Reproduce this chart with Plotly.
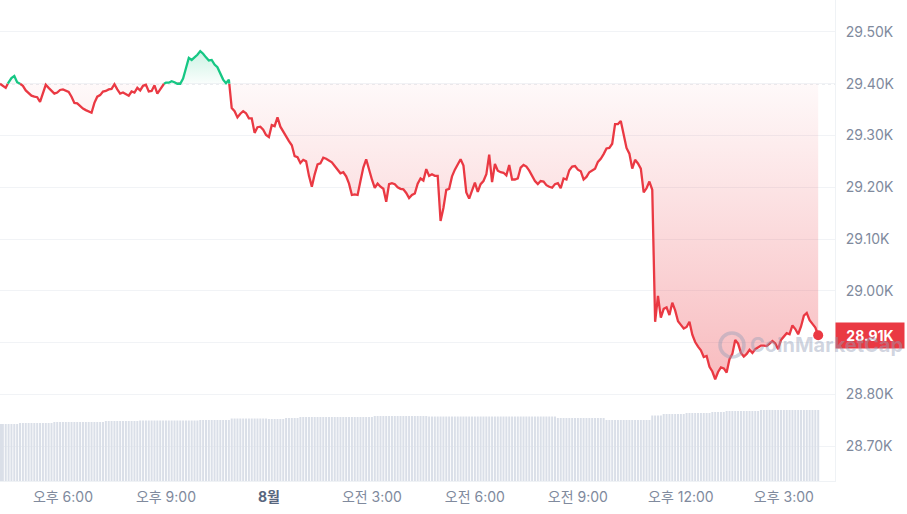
import numpy as np
import pandas as pd
import plotly.graph_objects as go

# ---------------- data ----------------
START = "2023-07-31 16:10"
STEP_MIN = 5
BASE = 29400  # reference (open) price -> dotted baseline

price = [
    29400, 29396, 29392, 29403, 29411, 29415, 29403, 29400, 29396, 29387,
    29382, 29377, 29375, 29374, 29365, 29382, 29398, 29392, 29387, 29381,
    29383, 29388, 29389, 29386, 29384, 29375, 29363, 29362, 29357, 29352,
    29349, 29346, 29344, 29363, 29375, 29378, 29385, 29386, 29389, 29390,
    29399, 29389, 29381, 29383, 29380, 29377, 29385, 29383, 29392, 29387,
    29396, 29398, 29385, 29386, 29397, 29381, 29389, 29399, 29402, 29402,
    29405, 29403, 29400, 29400, 29410, 29430, 29450, 29446, 29451, 29456,
    29463, 29458, 29451, 29445, 29446, 29437, 29432, 29420, 29408, 29401,
    29408, 29353, 29347, 29335, 29342, 29347, 29343, 29333, 29333, 29305,
    29316, 29317, 29311, 29301, 29297, 29320, 29318, 29335, 29317, 29307,
    29298, 29289, 29281, 29260, 29258, 29247, 29253, 29250, 29222, 29201,
    29225, 29244, 29246, 29257, 29255, 29252, 29248, 29241, 29233, 29227,
    29229, 29221, 29207, 29185, 29186, 29185, 29212, 29238, 29254, 29233,
    29215, 29199, 29207, 29201, 29197, 29172, 29206, 29208, 29206, 29200,
    29197, 29196, 29189, 29179, 29185, 29188, 29207, 29217, 29213, 29235,
    29222, 29225, 29222, 29222, 29135, 29160, 29195, 29197, 29221, 29234,
    29244, 29254, 29242, 29190, 29178, 29195, 29209, 29191, 29206, 29212,
    29225, 29263, 29210, 29245, 29232, 29229, 29228, 29223, 29243, 29215,
    29215, 29217, 29238, 29243, 29240, 29232, 29222, 29212, 29206, 29212,
    29211, 29204, 29201, 29199, 29206, 29208, 29198, 29217, 29215, 29233,
    29240, 29241, 29234, 29231, 29215, 29220, 29229, 29232, 29236, 29249,
    29255, 29264, 29275, 29276, 29284, 29322, 29322, 29328, 29305, 29276,
    29265, 29236, 29253, 29246, 29236, 29190, 29198, 29211, 29195, 28940,
    28990, 28948, 28965, 28968, 28953, 28977, 28962, 28941, 28934, 28927,
    28930, 28940, 28915, 28901, 28892, 28885, 28872, 28874, 28853, 28844,
    28829, 28843, 28852, 28850, 28842, 28868, 28878, 28905, 28898, 28880,
    28873, 28878, 28886, 28880, 28887, 28891, 28894, 28894, 28893, 28898,
    28903, 28898, 28887, 28905, 28912, 28918, 28916, 28933, 28926, 28916,
    28931, 28952, 28957, 28943, 28936, 28929, 28914,
]

# 24h volume (billions USD)
volume = [
    11.4, 11.4, 11.4, 11.4, 11.4, 11.4, 11.4, 11.6, 11.6, 11.6,
    11.6, 11.6, 11.6, 11.6, 11.6, 11.6, 11.6, 11.6, 11.6, 11.8,
    11.8, 11.8, 11.8, 11.8, 11.8, 11.8, 11.8, 11.8, 11.8, 11.8,
    11.8, 11.8, 11.8, 11.8, 11.8, 11.8, 11.8, 12.0, 12.0, 12.0,
    12.0, 12.0, 12.0, 12.0, 12.0, 12.0, 12.0, 12.0, 12.0, 12.1,
    12.1, 12.1, 12.1, 12.1, 12.1, 12.1, 12.1, 12.1, 12.1, 12.1,
    12.1, 12.1, 12.1, 12.1, 12.1, 12.1, 12.1, 12.1, 12.1, 12.1,
    12.2, 12.2, 12.2, 12.2, 12.2, 12.2, 12.2, 12.2, 12.2, 12.2,
    12.2, 12.5, 12.5, 12.5, 12.5, 12.5, 12.5, 12.5, 12.5, 12.5,
    12.5, 12.5, 12.5, 12.5, 12.4, 12.4, 12.4, 12.4, 12.4, 12.4,
    12.6, 12.6, 12.6, 12.6, 12.6, 12.8, 12.8, 12.8, 12.8, 12.8,
    12.8, 12.8, 12.8, 12.8, 12.8, 12.8, 12.8, 12.8, 12.8, 12.8,
    12.8, 12.8, 12.8, 12.8, 12.8, 12.8, 12.8, 12.8, 12.8, 12.8,
    12.8, 13.0, 13.0, 13.0, 13.0, 13.0, 13.0, 13.0, 13.0, 13.0,
    13.0, 13.0, 13.0, 13.0, 13.0, 13.0, 13.0, 13.0, 13.0, 13.0,
    12.9, 12.9, 12.9, 12.9, 12.9, 12.9, 12.9, 12.9, 12.9, 12.9,
    12.9, 12.9, 12.9, 12.9, 12.9, 12.9, 12.9, 12.9, 12.9, 12.9,
    12.9, 12.9, 12.9, 12.9, 12.9, 12.9, 12.9, 12.9, 12.9, 12.9,
    12.9, 12.9, 12.9, 12.9, 12.9, 12.9, 12.9, 12.9, 12.9, 12.9,
    12.9, 12.9, 12.9, 12.9, 12.9, 12.6, 12.6, 12.6, 12.6, 12.6,
    12.6, 12.6, 12.6, 12.6, 12.6, 12.6, 12.6, 12.6, 12.6, 12.6,
    12.6, 12.6, 12.2, 12.2, 12.2, 12.2, 12.2, 12.2, 12.2, 12.2,
    12.2, 12.2, 12.2, 12.2, 12.2, 12.2, 12.2, 12.2, 13.1, 13.1,
    13.1, 13.1, 13.4, 13.4, 13.4, 13.4, 13.4, 13.4, 13.4, 13.4,
    13.6, 13.6, 13.6, 13.6, 13.6, 13.6, 13.6, 13.6, 13.6, 13.8,
    13.8, 13.8, 13.8, 13.8, 14.0, 14.0, 14.0, 14.0, 14.0, 14.0,
    14.0, 14.0, 14.0, 14.0, 14.0, 14.0, 14.2, 14.2, 14.2, 14.2,
    14.2, 14.2, 14.2, 14.2, 14.2, 14.2, 14.2, 14.2, 14.2, 14.2,
    14.2, 14.2, 14.2, 14.2, 14.2, 14.2, 14.2,
]

x_tick_times = ["2023-07-31 18:00", "2023-07-31 21:00", "2023-08-01 00:00",
                "2023-08-01 03:00", "2023-08-01 06:00", "2023-08-01 09:00",
                "2023-08-01 12:00", "2023-08-01 15:00"]
x_tick_text = ["오후 6:00", "오후 9:00", "<b><span style='color:#58667e'>8월</span></b>",
               "오전 3:00", "오전 6:00", "오전 9:00", "오후 12:00", "오후 3:00"]

y_tick_vals = [28700, 28800, 28900, 29000, 29100, 29200, 29300, 29400, 29500]
y_tick_text = ["28.70K", "28.80K", "", "29.00K", "29.10K", "29.20K",
               "29.30K", "29.40K", "29.50K"]

X_RANGE = ["2023-07-31 16:10", "2023-08-01 16:29:23"]
Y_RANGE = [28632.4, 29561.8]

RED = "#ea3943"
GREEN = "#16c784"
FONT = "Inter, 'Noto Sans CJK KR', sans-serif"

# ---------------- derived ----------------
n = len(price)
times = pd.Timestamp(START) + pd.to_timedelta(np.arange(n) * STEP_MIN, unit="min")
tnum = times.asi8.astype(float)
p = np.array(price, dtype=float)

xs, ys = [], []
for i in range(n):
    if i > 0:
        a, b = p[i - 1] - BASE, p[i] - BASE
        if a * b < 0:
            f = a / (a - b)
            xs.append(tnum[i - 1] + f * (tnum[i] - tnum[i - 1]))
            ys.append(BASE)
    xs.append(tnum[i])
    ys.append(p[i])
xt = pd.to_datetime(np.array(xs).astype("int64"))
ys = np.array(ys)
lower = np.minimum(ys, BASE)
upper = np.maximum(ys, BASE)
red_line = np.where(ys <= BASE, ys, np.nan)
green_line = np.where(ys >= BASE, ys, np.nan)
base_arr = np.full(len(ys), BASE, dtype=float)

fig = go.Figure()

# volume bars
fig.add_trace(go.Bar(x=times, y=volume, yaxis="y2", marker_color="#dadfe8",
                     marker_line_width=0, hoverinfo="skip"))

# red fill (below baseline)
fig.add_trace(go.Scatter(x=xt, y=base_arr, mode="lines", line=dict(width=0),
                         hoverinfo="skip"))
fig.add_trace(go.Scatter(x=xt, y=lower, mode="lines", line=dict(width=0),
                         fill="tonexty",
                         fillgradient=dict(type="vertical",
                                           colorscale=[[0, "rgba(234,57,67,0.34)"],
                                                       [1, "rgba(234,57,67,0.03)"]]),
                         hoverinfo="skip"))
# green fill (above baseline)
fig.add_trace(go.Scatter(x=xt, y=base_arr, mode="lines", line=dict(width=0),
                         hoverinfo="skip"))
fig.add_trace(go.Scatter(x=xt, y=upper, mode="lines", line=dict(width=0),
                         fill="tonexty",
                         fillgradient=dict(type="vertical",
                                           colorscale=[[0, "rgba(22,199,132,0.02)"],
                                                       [1, "rgba(22,199,132,0.22)"]]),
                         hoverinfo="skip"))

# lines
fig.add_trace(go.Scatter(x=xt, y=red_line, mode="lines",
                         line=dict(color=RED, width=2.3), connectgaps=False))
fig.add_trace(go.Scatter(x=xt, y=green_line, mode="lines",
                         line=dict(color=GREEN, width=2.3), connectgaps=False))
# end marker
fig.add_trace(go.Scatter(x=[times[-1]], y=[p[-1]], mode="markers",
                         marker=dict(color=RED, size=10)))

# dotted baseline
fig.add_shape(type="line", xref="paper", x0=0, x1=1, yref="y", y0=BASE, y1=BASE,
              line=dict(color="#aab1bf", width=1, dash="dot"), layer="below")

# last price label
fig.add_annotation(xref="paper", yref="y", x=1, y=p[-1], xanchor="left",
                   yanchor="middle", showarrow=False, xshift=0,
                   text=f"<b>{p[-1] / 1000:.2f}K</b>", bgcolor=RED,
                   width=62, height=19, borderpad=3,
                   font=dict(family=FONT, size=14, color="white"))

# watermark (drawn on top)
fig.add_shape(type="circle", xref="paper", yref="paper",
              xsizemode="pixel", ysizemode="pixel",
              xanchor=732 / 835, yanchor=1 - 345 / 481,
              x0=-12, x1=12, y0=-12, y1=12,
              line=dict(color="rgba(150,160,185,0.45)", width=3.5))
fig.add_annotation(xref="paper", yref="paper", x=748 / 835, y=1 - 345 / 481,
                   xanchor="left", yanchor="middle", showarrow=False,
                   text="<b>CoinMarketCap</b>",
                   font=dict(family=FONT, size=20, color="rgba(150,160,185,0.45)"))

fig.update_layout(
    width=907, height=514,
    margin=dict(l=0, r=72, t=0, b=33, autoexpand=False),
    paper_bgcolor="white", plot_bgcolor="white",
    showlegend=False, bargap=0.3,
    font=dict(family=FONT, size=14, color="#808a9d"),
    xaxis=dict(type="date", range=X_RANGE, tickvals=x_tick_times,
               ticktext=x_tick_text, showgrid=False, zeroline=False,
               showline=True, linecolor="#eff2f5", linewidth=1,
               ticks="outside", ticklen=3, tickcolor="rgba(0,0,0,0)",
               automargin=False,
               tickfont=dict(size=14, color="#808a9d")),
    yaxis=dict(range=Y_RANGE, side="right", tickvals=y_tick_vals,
               ticktext=y_tick_text, showgrid=True, gridcolor="#f1f3f6",
               zeroline=False, showline=True, linecolor="#eff2f5",
               ticks="outside", ticklen=7, tickcolor="rgba(0,0,0,0)",
               automargin=False,
               tickfont=dict(size=14, color="#808a9d")),
    yaxis2=dict(overlaying="y", range=[0, 96.2], visible=False),
)

fig.write_html("out.html", config={"displayModeBar": False},
               post_script="document.body.style.margin='0';document.body.style.overflow='hidden';")
